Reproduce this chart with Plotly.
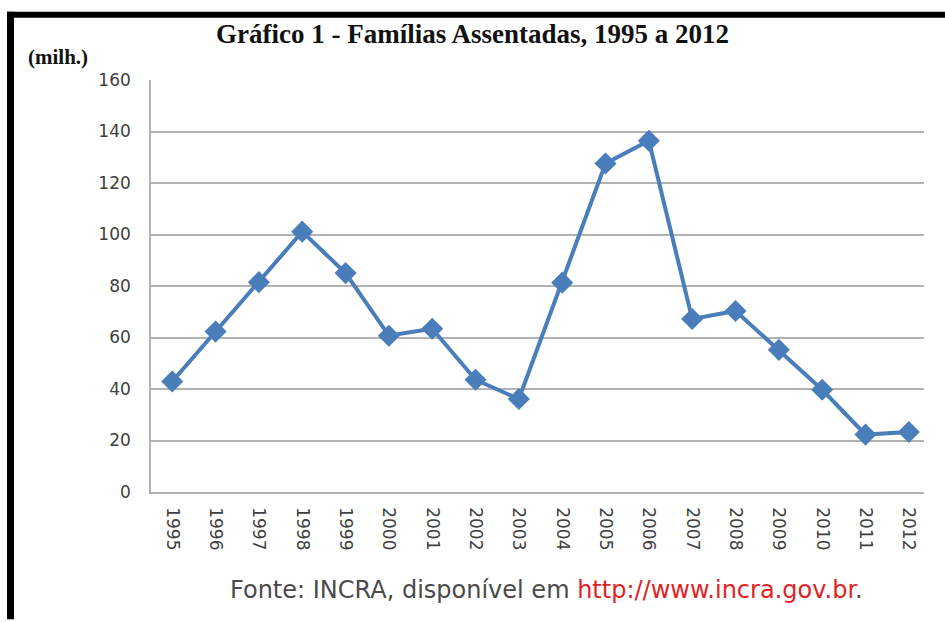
import plotly.graph_objects as go

years = ["1995", "1996", "1997", "1998", "1999", "2000", "2001", "2002", "2003",
         "2004", "2005", "2006", "2007", "2008", "2009", "2010", "2011", "2012"]
familias = [42.9, 62.3, 81.5, 101.1, 85.0, 60.7, 63.4, 43.6, 36.1,
            81.3, 127.6, 136.4, 67.2, 70.3, 55.2, 39.7, 22.3, 23.3]
y_ticks = [0, 20, 40, 60, 80, 100, 120, 140, 160]

W, H = 945, 622
L, R, T, B = 151, 924, 79.5, 492.5


def px(x):
    return (x - L) / (R - L)


def py(y):
    return (B - y) / (B - T)


xs = list(range(len(years)))

fig = go.Figure()
fig.add_trace(go.Scatter(
    x=xs, y=familias, mode="lines+markers",
    line=dict(color="#4a7ebb", width=4),
    marker=dict(symbol="diamond", size=17, color="#4a7ebb"),
    showlegend=False, hoverinfo="skip",
))

fig.update_layout(
    width=W, height=H,
    margin=dict(l=L, r=W - R, t=T, b=H - B, pad=0),
    paper_bgcolor="white", plot_bgcolor="white",
    xaxis=dict(
        range=[-0.49, 17.35], tickvals=xs, ticktext=years,
        tickangle=90, showgrid=False, zeroline=False,
        showline=True, linecolor="#b3b3b3", linewidth=1.6,
        ticks="", ticklabelstandoff=10,
        tickfont=dict(family="DejaVu Sans", size=17, color="#404040"),
    ),
    yaxis=dict(
        range=[0, 160], tickvals=y_ticks, showgrid=True,
        gridcolor="#b3b3b3", gridwidth=1.6, zeroline=False,
        showline=True, linecolor="#b3b3b3", linewidth=1.6, ticks="",
        ticklabelstandoff=15,
        tickfont=dict(family="DejaVu Sans", size=17, color="#404040"),
    ),
    annotations=[
        dict(text="<b>Gráfico 1 - Famílias Assentadas, 1995 a 2012</b>",
             xref="paper", yref="paper", x=px(472.5), y=py(33),
             xanchor="center", yanchor="middle", showarrow=False,
             font=dict(family="Liberation Serif", size=27, color="#111111")),
        dict(text="<b>(milh.)</b>",
             xref="paper", yref="paper", x=px(26), y=py(56),
             xanchor="left", yanchor="middle", showarrow=False,
             font=dict(family="Liberation Serif", size=21, color="#111111")),
        dict(text="Fonte: INCRA, disponível em <span style='color:#e3221f'>http://www.incra.gov.br</span>.",
             xref="paper", yref="paper", x=px(546), y=py(591),
             xanchor="center", yanchor="middle", showarrow=False,
             font=dict(family="DejaVu Sans", size=24, color="#4a4a4a")),
    ],
    shapes=[
        dict(type="rect", xref="paper", yref="paper",
             x0=px(7), x1=px(946), y0=py(17), y1=py(11),
             fillcolor="black", line=dict(width=0), layer="above"),
        dict(type="rect", xref="paper", yref="paper",
             x0=px(7), x1=px(14), y0=py(620), y1=py(11),
             fillcolor="black", line=dict(width=0), layer="above"),
    ],
)

fig.write_html(
    "out.html",
    config={"displayModeBar": False},
    post_script="document.body.style.margin='0';document.body.style.padding='0';",
)
